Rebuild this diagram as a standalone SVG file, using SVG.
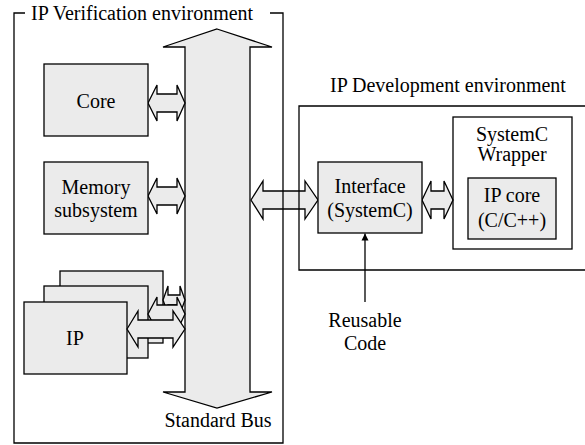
<svg xmlns="http://www.w3.org/2000/svg" width="585" height="445" viewBox="0 0 585 445" font-family="Liberation Serif" font-size="20">
<style>
.box{fill:#ebebeb;stroke:#000;stroke-width:1.3}
.frame{fill:none;stroke:#000;stroke-width:1.3}
.arr{fill:#ebebeb;stroke:#000;stroke-width:1.3;stroke-linejoin:miter}
.c{text-anchor:middle}
</style>
<defs>
<marker id="ah" viewBox="0 0 10 10" refX="10" refY="5" markerWidth="7" markerHeight="10" markerUnits="userSpaceOnUse" orient="auto">
<path d="M0,0 L10,5 L0,10 z" fill="#000"/>
</marker>
</defs>
<rect width="585" height="445" fill="#fff"/>
<g id="connectors">
<polygon id="bus" class="arr" points="217,29 272,47 250,47 250,392 272,392 217,408 163,392 185,392 185,47 163,47"/>
<polygon class="arr" points="148,103 157,85 157,94 177,94 177,85 185,103 177,121 177,112 157,112 157,121"/>
<polygon class="arr" points="148,196 157,178 157,187 177,187 177,178 185,196 177,214 177,205 157,205 157,214"/>
<polygon class="arr" points="251,200 263,181 263,191 305,191 305,181 318,200 305,219 305,209 263,209 263,219"/>
<polygon class="arr" points="422,200 431,181 431,191 444,191 444,181 453,200 444,219 444,209 431,209 431,219"/>
<line x1="365" y1="302" x2="365" y2="233.5" stroke="#000" stroke-width="1.3" marker-end="url(#ah)"/>
</g>
<g id="verification-env">
<path class="frame" d="M25,13 H14 V443 H283 V13 H270"/>
<text x="31" y="20" font-family="Liberation Serif">IP Verification environment</text>
</g>
<g id="standard-bus-label">
<text class="c" x="218" y="427" font-family="Liberation Serif">Standard Bus</text>
</g>
<g id="core">
<rect class="box" x="44" y="64" width="104" height="72"/>
<text class="c" x="96" y="108" font-family="Liberation Serif">Core</text>
</g>
<g id="memory">
<rect class="box" x="44" y="162" width="104" height="72"/>
<text class="c" x="96" y="194" font-family="Liberation Serif">Memory</text>
<text class="c" x="96" y="217" font-family="Liberation Serif">subsystem</text>
</g>
<g id="ip-stack">
<rect class="box" x="60" y="271" width="103" height="72"/>
<polygon class="arr" points="163,300 168,286 168,295 180,295 180,286 185,300 180,314 180,305 168,305 168,314"/>
<rect class="box" x="44" y="286" width="104" height="72"/>
<polygon class="arr" points="148,314 157,297 157,305 177,305 177,297 185,314 177,331 177,323 157,323 157,331"/>
<rect class="box" x="24" y="302" width="103" height="72"/>
<polygon class="arr" points="127,329 138,311 138,320 173,320 173,311 185,329 173,347 173,338 138,338 138,347"/>
<text class="c" x="75" y="345" font-family="Liberation Serif">IP</text>
</g>
<g id="development-env">
<path class="frame" d="M590,106 H299 V270 H590"/>
<text x="330" y="92" font-family="Liberation Serif">IP Development environment</text>
</g>
<g id="interface">
<rect class="box" x="318" y="162" width="104" height="71"/>
<text class="c" x="370" y="193" font-family="Liberation Serif">Interface</text>
<text class="c" x="370" y="217" font-family="Liberation Serif">(SystemC)</text>
</g>
<g id="wrapper">
<rect class="frame" x="453" y="117" width="119" height="132"/>
<text class="c" x="512" y="141" font-family="Liberation Serif">SystemC</text>
<text class="c" x="512" y="161" font-family="Liberation Serif">Wrapper</text>
</g>
<g id="ip-core">
<rect class="box" x="468" y="178" width="88" height="61"/>
<text class="c" x="512" y="202" font-family="Liberation Serif">IP core</text>
<text class="c" x="512" y="227" font-family="Liberation Serif">(C/C++)</text>
</g>
<g id="reusable-code">
<text class="c" x="365" y="327" font-family="Liberation Serif">Reusable</text>
<text class="c" x="365" y="350" font-family="Liberation Serif">Code</text>
</g>
</svg>
